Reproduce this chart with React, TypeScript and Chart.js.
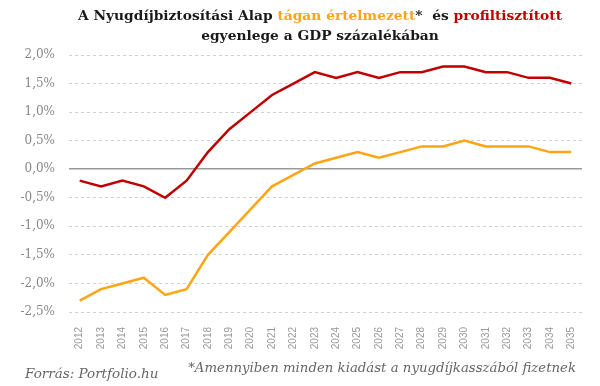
import { useEffect, useRef } from "react";
import { Chart, registerables } from "chart.js";

Chart.register(...registerables);

const years = [
  "2012", "2013", "2014", "2015", "2016", "2017", "2018", "2019", "2020", "2021", "2022", "2023",
  "2024", "2025", "2026", "2027", "2028", "2029", "2030", "2031", "2032", "2033", "2034", "2035",
];
const profiltisztitott = [
  -0.2, -0.3, -0.2, -0.3, -0.5, -0.2, 0.3, 0.7, 1.0, 1.3, 1.5, 1.7,
  1.6, 1.7, 1.6, 1.7, 1.7, 1.8, 1.8, 1.7, 1.7, 1.6, 1.6, 1.5,
];
const taganErtelmezett = [
  -2.3, -2.1, -2.0, -1.9, -2.2, -2.1, -1.5, -1.1, -0.7, -0.3, -0.1, 0.1,
  0.2, 0.3, 0.2, 0.3, 0.4, 0.4, 0.5, 0.4, 0.4, 0.4, 0.3, 0.3,
];
const yMin = -2.5;
const yMax = 2.0;
const yStep = 0.5;

const RED = "#c00000";
const ORANGE = "#ffa514";

export default function App() {
  const ref = useRef<HTMLCanvasElement>(null);

  useEffect(() => {
    const chart = new Chart(ref.current!, {
      type: "line",
      data: {
        labels: years,
        datasets: [
          {
            label: "profiltisztított",
            data: profiltisztitott,
            borderColor: RED,
            backgroundColor: RED,
            borderWidth: 2.5,
            pointRadius: 0,
            tension: 0,
          },
          {
            label: "tágan értelmezett",
            data: taganErtelmezett,
            borderColor: ORANGE,
            backgroundColor: ORANGE,
            borderWidth: 2.5,
            pointRadius: 0,
            tension: 0,
          },
        ],
      },
      options: {
        responsive: false,
        animation: false,
        layout: { padding: { top: 55, right: 18, left: 0, bottom: 0 } },
        plugins: { legend: { display: false }, tooltip: { enabled: false } },
        scales: {
          x: {
            offset: true,
            grid: { display: false },
            border: { display: false },
            ticks: {
              minRotation: 90,
              maxRotation: 90,
              autoSkip: false,
              padding: 7,
              color: "#999999",
              font: { family: "'Liberation Sans', sans-serif", size: 10 },
            },
            afterFit: (s: any) => {
              s.height = 74;
            },
          },
          y: {
            min: yMin,
            max: yMax,
            border: {
              display: false,
              dash: (ctx: any) => (ctx.tick && ctx.tick.value === 0 ? [] : [3, 3]),
            },
            grid: {
              drawTicks: false,
              color: (ctx: any) => (ctx.tick && ctx.tick.value === 0 ? "#999999" : "#d0d0d0"),
              lineWidth: (ctx: any) => (ctx.tick && ctx.tick.value === 0 ? 1.5 : 1),
            },
            ticks: {
              stepSize: yStep,
              padding: 14,
              color: "#888888",
              font: { family: "'DejaVu Serif', serif", size: 12 },
              callback: (v: any) => Number(v).toFixed(1).replace(".", ",") + "%",
            },
            afterFit: (s: any) => {
              s.width = 69;
            },
          },
        },
      },
    });
    return () => chart.destroy();
  }, []);

  return (
    <div
      style={{
        position: "absolute",
        left: 0,
        top: 0,
        width: 600,
        height: 386,
        background: "#fff",
        overflow: "hidden",
      }}
    >
      <canvas ref={ref} width={600} height={386} style={{ position: "absolute", left: 0, top: 0 }} />
      <div
        style={{
          position: "absolute",
          left: 20,
          width: 600,
          top: 5,
          textAlign: "center",
          fontFamily: "'DejaVu Serif', serif",
          fontWeight: "bold",
          fontSize: 13.8,
          lineHeight: "20px",
          color: "#1a1a1a",
        }}
      >
        <div>
          A Nyugdíjbiztosítási Alap <span style={{ color: ORANGE }}>tágan értelmezett</span>*&nbsp; és{" "}
          <span style={{ color: RED }}>profiltisztított</span>
        </div>
        <div>egyenlege a GDP százalékában</div>
      </div>
      <div
        style={{
          position: "absolute",
          left: 25,
          top: 365,
          fontFamily: "'DejaVu Serif', serif",
          fontStyle: "italic",
          fontSize: 13.5,
          lineHeight: "16px",
          color: "#666666",
        }}
      >
        Forrás: Portfolio.hu
      </div>
      <div
        style={{
          position: "absolute",
          right: 24,
          top: 360,
          fontFamily: "'DejaVu Serif', serif",
          fontStyle: "italic",
          fontSize: 13.3,
          lineHeight: "16px",
          color: "#666666",
        }}
      >
        *Amennyiben minden kiadást a nyugdíjkasszából fizetnek
      </div>
    </div>
  );
}
